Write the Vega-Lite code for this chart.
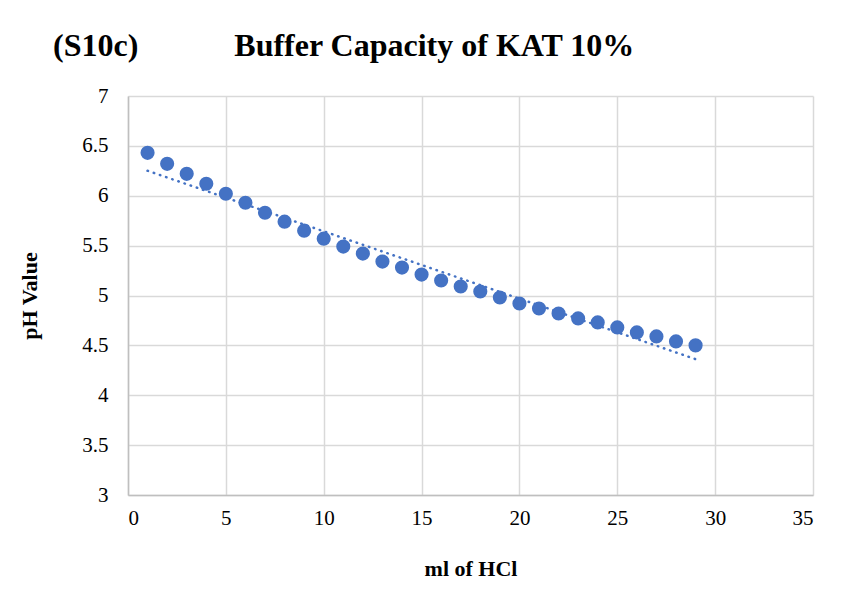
{
  "$schema": "https://vega.github.io/schema/vega-lite/v6.json",
  "autosize": "none",
  "width": 685,
  "height": 399,
  "padding": {"left": 128, "top": 96, "right": 34, "bottom": 106},
  "background": "white",
  "title": {
    "text": "(S10c)\u00a0\u00a0\u00a0\u00a0\u00a0\u00a0\u00a0\u00a0\u00a0\u00a0\u00a0\u00a0Buffer Capacity of KAT 10%",
    "anchor": "start",
    "frame": "group",
    "dx": -75,
    "offset": 22,
    "font": "Liberation Serif",
    "fontSize": 32,
    "fontWeight": "bold",
    "color": "black"
  },
  "data": {
    "values": [
      {"ml": 1, "ph": 6.43}, {"ml": 2, "ph": 6.32}, {"ml": 3, "ph": 6.22},
      {"ml": 4, "ph": 6.12}, {"ml": 5, "ph": 6.02}, {"ml": 6, "ph": 5.93},
      {"ml": 7, "ph": 5.83}, {"ml": 8, "ph": 5.74}, {"ml": 9, "ph": 5.65},
      {"ml": 10, "ph": 5.57}, {"ml": 11, "ph": 5.49}, {"ml": 12, "ph": 5.42},
      {"ml": 13, "ph": 5.34}, {"ml": 14, "ph": 5.28}, {"ml": 15, "ph": 5.21},
      {"ml": 16, "ph": 5.15}, {"ml": 17, "ph": 5.09}, {"ml": 18, "ph": 5.04},
      {"ml": 19, "ph": 4.98}, {"ml": 20, "ph": 4.92}, {"ml": 21, "ph": 4.87},
      {"ml": 22, "ph": 4.82}, {"ml": 23, "ph": 4.77}, {"ml": 24, "ph": 4.73},
      {"ml": 25, "ph": 4.68}, {"ml": 26, "ph": 4.63}, {"ml": 27, "ph": 4.59},
      {"ml": 28, "ph": 4.54}, {"ml": 29, "ph": 4.50}
    ]
  },
  "encoding": {
    "x": {
      "field": "ml", "type": "quantitative",
      "scale": {"domain": [0, 35], "nice": false, "zero": false},
      "axis": {"values": [0,5,10,15,20,25,30,35], "title": "ml of HCl", "titlePadding": 30}
    },
    "y": {
      "field": "ph", "type": "quantitative",
      "scale": {"domain": [3, 7], "nice": false, "zero": false},
      "axis": {"values": [3,3.5,4,4.5,5,5.5,6,6.5,7], "format": "~g", "title": "pH Value", "titlePadding": 40}
    }
  },
  "layer": [
    {
      "transform": [{"regression": "ph", "on": "ml"}],
      "mark": {"type": "line", "color": "#4472C4", "strokeWidth": 2.5, "strokeDash": [0.5, 6], "strokeCap": "round"}
    },
    {
      "mark": {"type": "circle", "color": "#4472C4", "size": 200, "opacity": 1}
    }
  ],
  "config": {
    "view": {"stroke": null},
    "axis": {
      "labelFont": "Liberation Serif",
      "labelFontSize": 21,
      "labelColor": "black",
      "titleFont": "Liberation Serif",
      "titleFontSize": 22,
      "titleFontWeight": "bold",
      "titleColor": "black",
      "gridColor": "#d9d9d9",
      "gridWidth": 1.5,
      "domainColor": "#bfbfbf",
      "domainWidth": 1.5,
      "ticks": false,
      "labelPadding": 12
    },
    "axisY": {"labelPadding": 20}
  }
}
